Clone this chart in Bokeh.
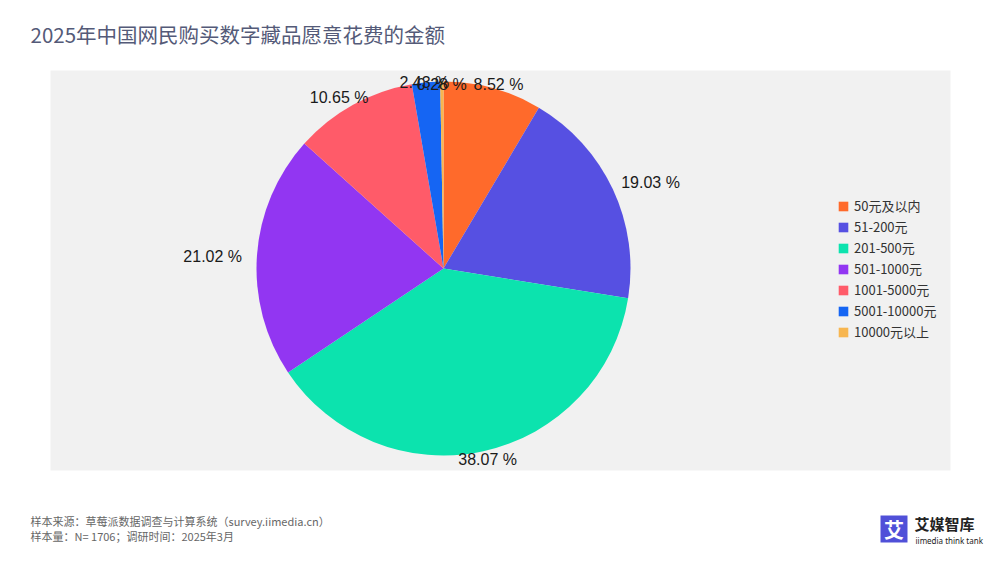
import numpy as np
from bokeh.plotting import figure
from bokeh.models import ColumnDataSource, Range1d, Legend, LegendItem
from bokeh.core.properties import value
from bokeh.embed import file_html
from bokeh.resources import INLINE

# ---- data ----
title_text = "2025年中国网民购买数字藏品愿意花费的金额"
categories = ["50元及以内", "51-200元", "201-500元", "501-1000元", "1001-5000元", "5001-10000元", "10000元以上"]
shares = [8.52, 19.03, 38.07, 21.02, 10.65, 2.43, 0.28]
colors = ["#FF6A2B", "#5650E2", "#0CE3AE", "#9236F2", "#FF5B69", "#1565F3", "#F7B650"]
source_note = "样本来源：草莓派数据调查与计算系统（survey.iimedia.cn）"
sample_note = "样本量：N= 1706；调研时间：2025年3月"

W, H = 984, 547

def X(px):
    return px

def Y(py):
    return H - py

p = figure(width=W, height=H, output_backend="svg", toolbar_location=None,
           x_range=Range1d(0, W), y_range=Range1d(0, H), min_border=0,
           background_fill_color="white", border_fill_color="white")
p.axis.visible = False
p.xgrid.visible = False
p.ygrid.visible = False
p.outline_line_color = None

# plot area background
p.quad(left=X(50), right=X(950), bottom=Y(470), top=Y(70), fill_color="#F1F1F1", line_color=None)

# pie
cxs, cys, R = 443, 268, 187
cx, cy = X(cxs), Y(cys)
vals = np.array(shares)
frac = vals / vals.sum()
cum = np.cumsum(frac)
prev = np.concatenate([[0], cum[:-1]])
start = np.pi / 2 - 2 * np.pi * prev
end = np.pi / 2 - 2 * np.pi * cum
src = ColumnDataSource(dict(start=start, end=end, color=colors, label=categories))
wr = p.wedge(x=cx, y=cy, radius=R, start_angle="start", end_angle="end", direction="clock",
             fill_color="color", line_color=None, source=src)

# outside labels (positions derived from slice mid-angles)
mid = 2 * np.pi * (prev + cum) / 2
dx, dy = np.sin(mid), np.cos(mid)
texts = ["%.2f %%" % v for v in shares]
widths = np.array([8.7 * len(t) for t in texts])
lxs = cxs + dx * (R + 14) + dx * np.abs(dx) * widths / 2
lys = cys - dy * R + 3 - dy * np.abs(dx) * 25
lsrc = ColumnDataSource(dict(x=X(lxs), y=Y(lys), t=texts))
p.text(x="x", y="y", text="t", source=lsrc, text_align="center", text_baseline="middle",
       text_font=value("Liberation Sans"), text_font_size=value("16px"), text_color="#1a1a1a")

# legend
legend = Legend(items=[LegendItem(label=c, renderers=[wr], index=i) for i, c in enumerate(categories)],
                location=(X(837), Y(193) - 7 * 21.3), orientation="vertical",
                background_fill_alpha=0, border_line_color=None,
                glyph_width=12, glyph_height=12, label_height=21, spacing=0, padding=0, margin=0,
                label_standoff=5, label_text_font="Noto Sans CJK SC", label_text_font_size="13px",
                label_text_color="#333333")
p.add_layout(legend, "center")

# title
p.text(x=[X(30)], y=[Y(33)], text=[title_text], text_align="left", text_baseline="middle",
       text_font=value("Noto Sans CJK SC"), text_font_size=value("20.5px"), text_color="#545a78")

# footer
p.text(x=[X(30), X(30)], y=[Y(520), Y(535)], text=[source_note, sample_note], text_align="left",
       text_baseline="middle", text_font=value("Noto Sans CJK SC"), text_font_size=value("11px"),
       text_color="#666666")

# logo
p.quad(left=X(880), right=X(907), bottom=Y(542), top=Y(515), fill_color="#5050D8", line_color=None)
p.text(x=[X(893.5)], y=[Y(528.5)], text=["艾"], text_align="center", text_baseline="middle",
       text_font=value("Noto Sans CJK SC"), text_font_size=value("20px"), text_font_style="bold",
       text_color="white")
p.text(x=[X(914)], y=[Y(523)], text=["艾媒智库"], text_align="left", text_baseline="middle",
       text_font=value("Noto Sans CJK SC"), text_font_size=value("15px"), text_font_style="bold",
       text_color="#222222")
p.text(x=[X(915)], y=[Y(540)], text=["iimedia think tank"], text_align="left", text_baseline="middle",
       text_font=value("Noto Sans"), text_font_size=value("8px"), text_color="#222222")

open("out.html", "w").write(file_html(p, INLINE))
